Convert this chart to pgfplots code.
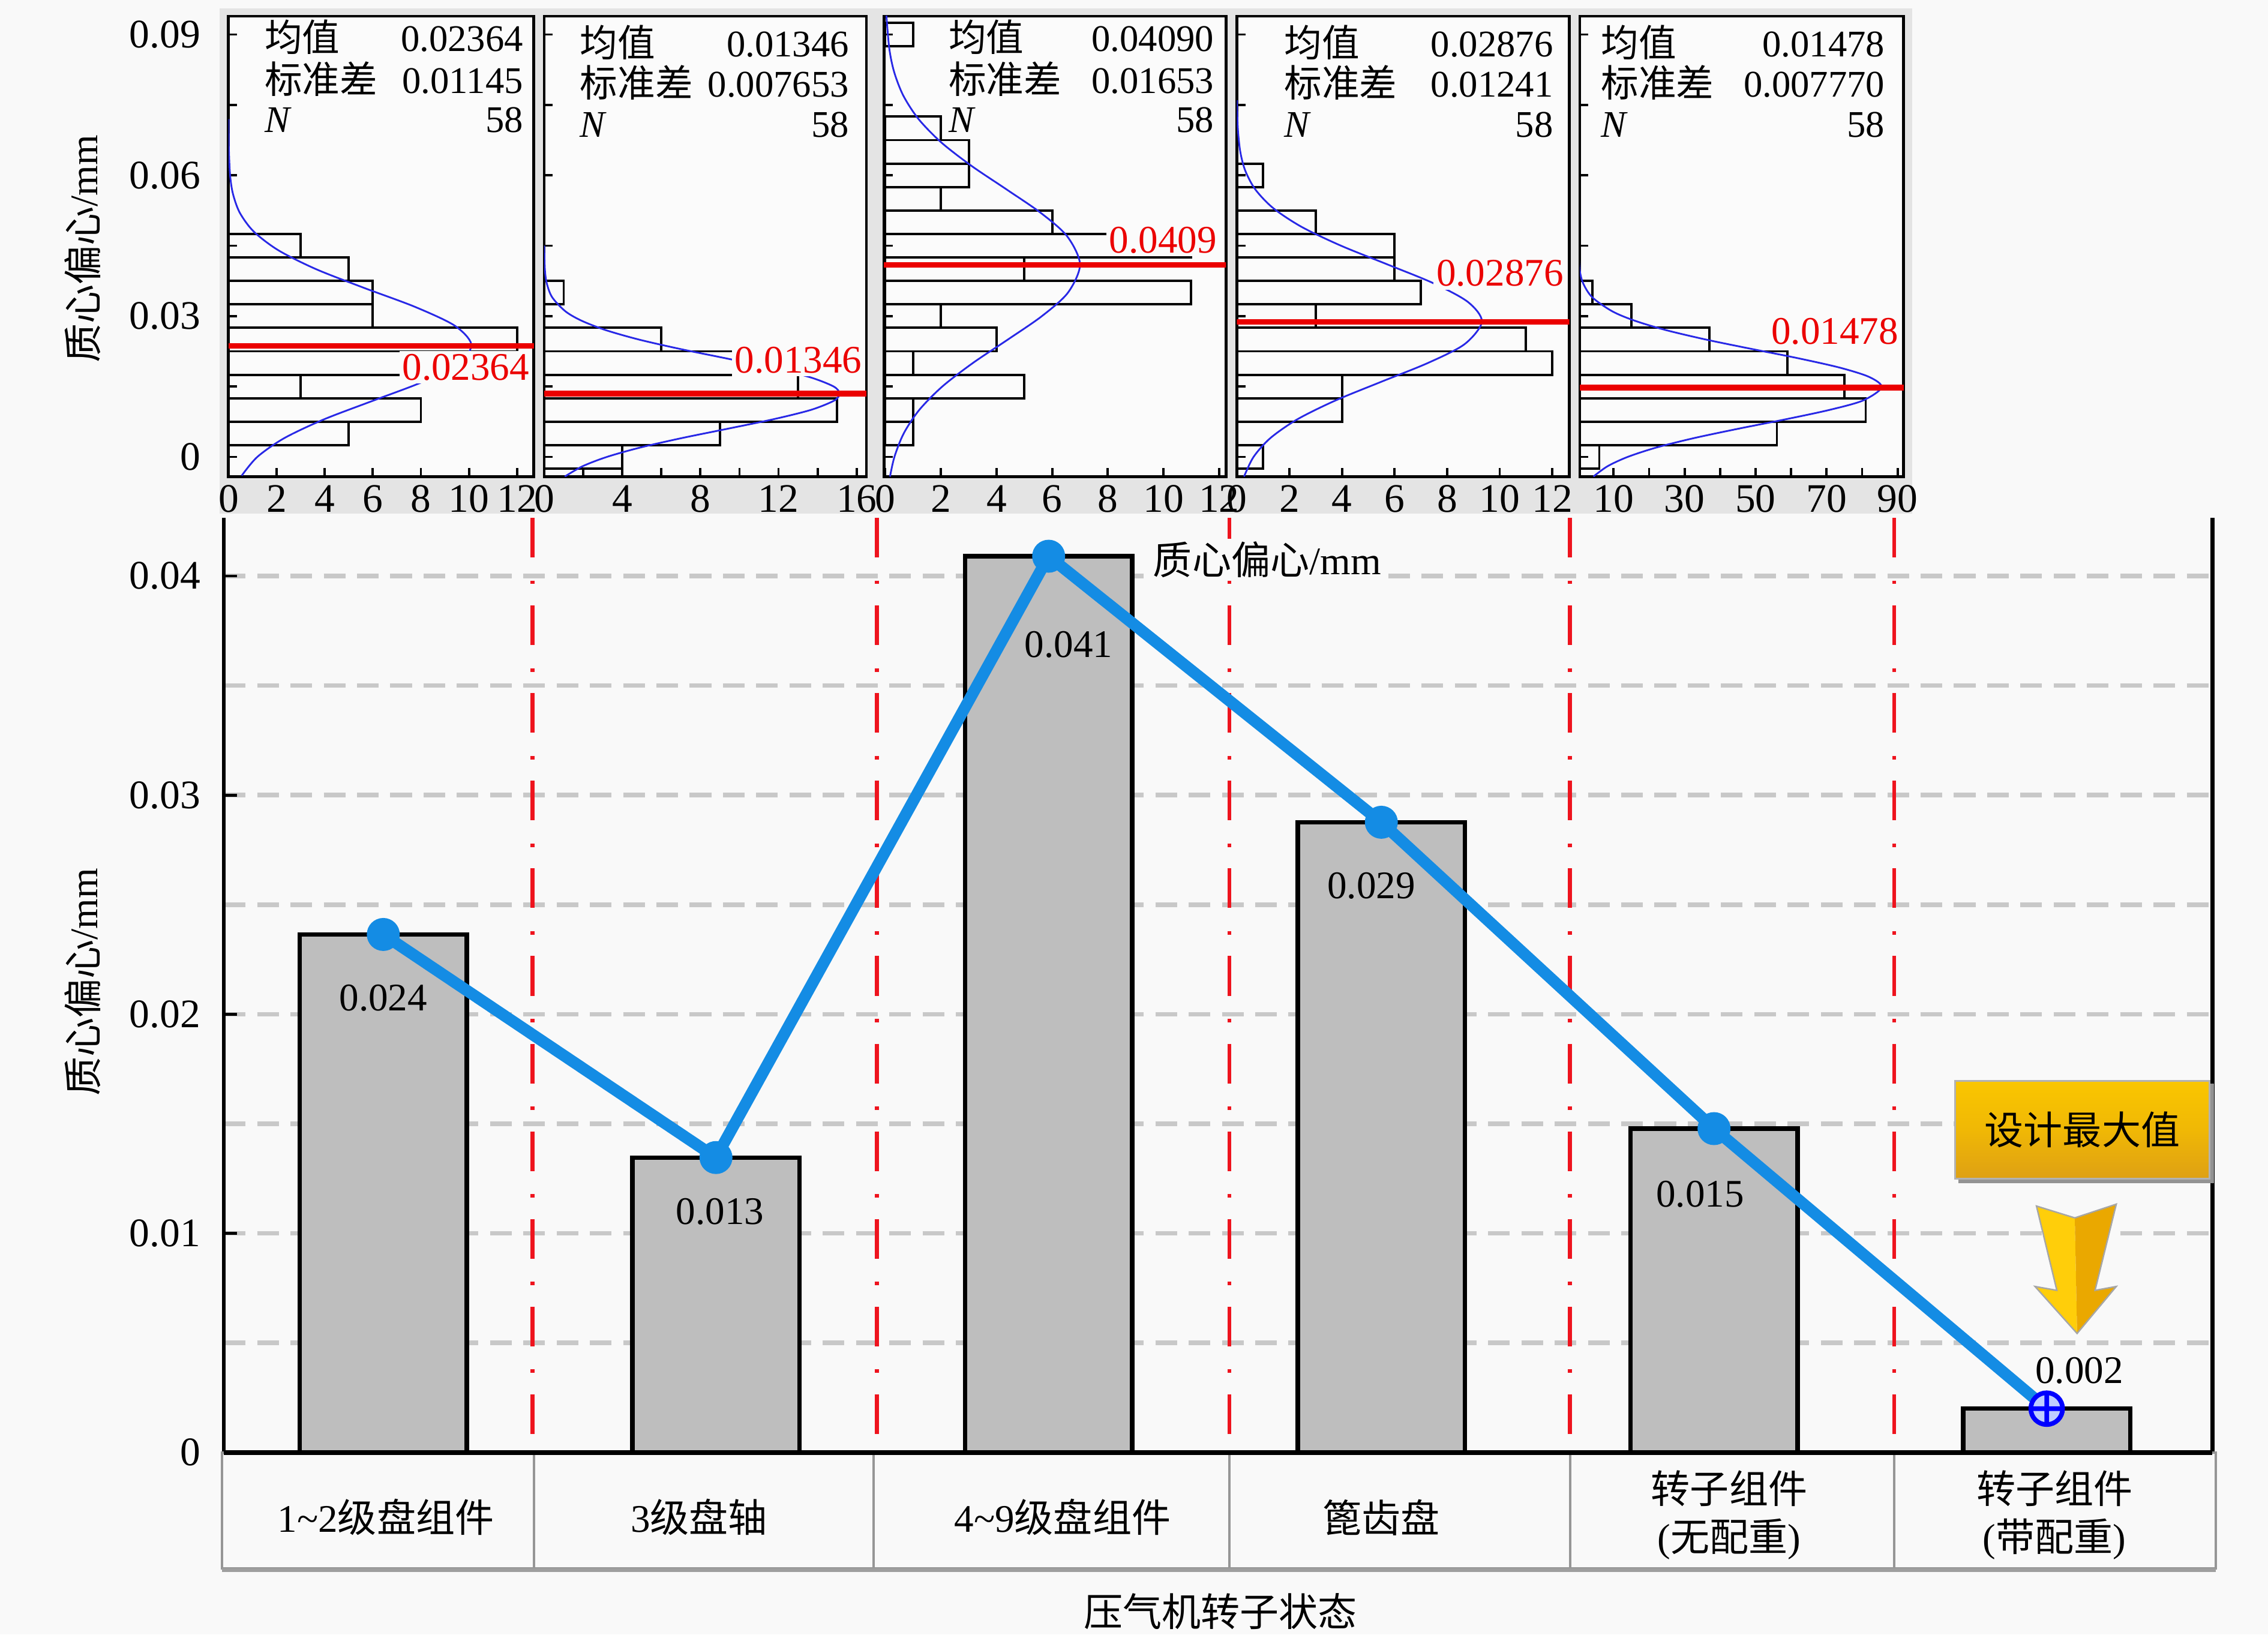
\documentclass[border=0pt]{standalone}
\usepackage{fontspec}
\setmainfont{Liberation Serif}
\newfontfamily\cjk{Noto Sans CJK SC}
\usepackage{pgfplots}
\pgfplotsset{compat=1.18}

\definecolor{bgc}{RGB}{249,249,249}
\definecolor{stripc}{RGB}{228,228,228}
\definecolor{panelbg}{RGB}{251,251,251}
\definecolor{barg}{RGB}{190,190,190}
\definecolor{gridc}{RGB}{200,200,200}
\definecolor{lineb}{RGB}{20,140,228}
\definecolor{curveb}{RGB}{40,40,230}
\definecolor{meanred}{RGB}{235,0,0}
\definecolor{sepred}{RGB}{238,20,30}
\definecolor{tgray}{RGB}{150,150,150}
\definecolor{boxtop}{RGB}{250,198,0}
\definecolor{boxmid}{RGB}{240,184,5}
\definecolor{boxbot}{RGB}{222,160,20}
\definecolor{arrowl}{RGB}{255,206,10}
\definecolor{arrowr}{RGB}{234,168,0}

\newcommand{\fA}{\fontsize{14}{16}\selectfont}
\newcommand{\fB}{\fontsize{13}{15}\selectfont}
\newcommand{\fC}{\fontsize{13.5}{16}\selectfont}

\pgfplotsset{
  panel/.style={
    anchor=south west, scale only axis, height=159.15pt,
    ymin=-0.0042, ymax=0.0939,
    scaled ticks=false,
    axis background/.style={fill=panelbg},
    axis line style={line width=1pt, black},
    tick pos=left, tick align=inside,
    major tick length=3pt, minor tick length=3pt,
    every tick/.style={black, line width=0.8pt},
    ytick={0,0.03,0.06,0.09}, minor ytick={0.015,0.045,0.075},
    yticklabel=\empty,
    /pgf/number format/assume math mode=true,
    xticklabel style={font=\fA, inner sep=0pt, yshift=-2.8pt},
  },
  hbar/.style={xbar, bar width=0.005, bar shift=0pt, draw=black, line width=0.8pt, fill=none},
  ncurve/.style={curveb, line width=0.6pt, smooth, no marks},
  meanl/.style={meanred, line width=2pt, no marks},
  seprl/.style={sepred, line width=1.3pt, dash pattern=on 13.7pt off 8pt on 1.2pt off 7.4pt, no marks, forget plot},
}

\begin{document}
\begin{tikzpicture}
\useasboundingbox (0,0) rectangle (784pt,565pt);
\fill[bgc] (0,0) rectangle (784pt,565pt);
\fill[stripc] (76pt,387.5pt) rectangle (661pt,562pt);

% ---------------- main chart ----------------
\begin{axis}[
  at={(77.4pt,62.9pt)}, anchor=south west,
  scale only axis, width=687.4pt, height=323.1pt,
  xmin=-0.4791, xmax=5.4983, ymin=0, ymax=0.042653,
  scaled ticks=false,
  axis line style={draw=none},
  xtick=\empty,
  ytick={0,0.01,0.02,0.03,0.04}, yticklabels={0,0.01,0.02,0.03,0.04},
  minor ytick={0.005,0.015,0.025,0.035},
  tick pos=left, tick align=inside, major tick length=4.5pt, minor tick length=0pt,
  every tick/.style={black, line width=1pt},
  ymajorgrids, yminorgrids,
  major grid style={gridc, line width=1.6pt, dash pattern=on 7.5pt off 4pt},
  minor grid style={gridc, line width=1.6pt, dash pattern=on 7.5pt off 4pt},
  yticklabel style={font=\fA, inner sep=0pt, anchor=east, xshift=-7.9pt},
  clip=false,
]
\addplot[seprl] coordinates {(0.4483,0.042653) (0.4483,0)};
\addplot[seprl] coordinates {(1.4835,0.042653) (1.4835,0)};
\addplot[seprl] coordinates {(2.5435,0.042653) (2.5435,0)};
\addplot[seprl] coordinates {(3.5670,0.042653) (3.5670,0)};
\addplot[seprl] coordinates {(4.5420,0.042653) (4.5420,0)};
\addplot[ybar, bar width=57.75pt, bar shift=0pt, fill=barg, draw=black, line width=1.5pt]
  coordinates {(0,0.02364) (1,0.01346) (2,0.0409) (3,0.02876) (4,0.01478) (5,0.002)};
\addplot[lineb, line width=4pt, line join=round, no marks]
  coordinates {(0,0.02364) (1,0.01346) (2,0.0409) (3,0.02876) (4,0.01478) (5,0.002)};
\addplot[only marks, mark=*, mark size=5.5pt, lineb]
  coordinates {(0,0.02364) (1,0.01346) (2,0.0409) (3,0.02876) (4,0.01478)};
\addplot[only marks, mark=oplus*, mark size=5.5pt, draw=blue, mark options={fill={rgb,255:red,190;green,205;blue,255}, line width=1.6pt, draw=blue}]
  coordinates {(5,0.002)};
\node[font=\fC] at (axis cs:0,0.02074) {0.024};
\node[font=\fC] at (axis cs:1.012,0.01099) {0.013};
\node[font=\fC] at (axis cs:2.06,0.03687) {0.041};
\node[font=\fC] at (axis cs:2.970,0.02585) {0.029};
\node[font=\fC] at (axis cs:3.958,0.01178) {0.015};
\node[font=\fC] at (axis cs:5.098,0.003736) {0.002};
\draw[black, line width=1.3pt] (rel axis cs:0,0) -- (rel axis cs:0,1);
\draw[black, line width=1.6pt] (rel axis cs:0,0) -- (rel axis cs:1,0);
\draw[black, line width=1.6pt] (rel axis cs:1,0) -- (rel axis cs:1,1);
\end{axis}

% ---------------- histogram panels ----------------
\begin{axis}[panel, at={(79pt,400.25pt)}, width=105.55pt,
  xmin=0, xmax=12.7, xtick={0,2,4,6,8,10,12},
  yticklabels={0,0.03,0.06,0.09},
  yticklabel style={font=\fA, inner sep=0pt, anchor=east, xshift=-9.5pt}]
\addplot[hbar] coordinates {(5,0.005) (8,0.010) (3,0.015) (10,0.020) (12,0.025) (6,0.030) (6,0.035) (5,0.040) (3,0.045)};
\addplot[ncurve] coordinates {(0.548,-0.004) (1.199,0) (2.320,0.004) (3.973,0.008) (6.025,0.012) (8.084,0.016) (9.602,0.020) (10.095,0.024) (9.394,0.028) (7.738,0.032) (5.640,0.036) (3.639,0.040) (2.079,0.044) (1.050,0.048) (0.470,0.052) (0.186,0.056) (0.065,0.060) (0.011,0.066) (0.002,0.072)};
\addplot[meanl] coordinates {(0,0.02364) (13,0.02364)};
\end{axis}

\begin{axis}[panel, at={(188.1pt,400.25pt)}, width=111.4pt,
  xmin=0, xmax=16.5, xtick={0,4,8,12,16}, minor xtick={2,6,10,14}]
\addplot[hbar] coordinates {(4,0) (9,0.005) (15,0.010) (13,0.015) (10,0.020) (6,0.025) (1,0.035)};
\addplot[ncurve] coordinates {(1.055,-0.0042) (1.966,-0.002) (3.219,0) (4.928,0.002) (7.043,0.004) (9.402,0.006) (11.72,0.008) (13.65,0.010) (14.85,0.012) (15.12,0.0135) (14.82,0.015) (13.59,0.017) (11.63,0.019) (9.307,0.021) (6.952,0.023) (4.851,0.025) (3.160,0.027) (1.923,0.029) (1.093,0.031) (0.412,0.034) (0.133,0.037) (0.037,0.040) (0.005,0.045)};
\addplot[meanl] coordinates {(0,0.01346) (17,0.01346)};
\end{axis}

\begin{axis}[panel, at={(305.55pt,400.25pt)}, width=118.25pt,
  xmin=-0.05, xmax=12.25, xtick={0,2,4,6,8,10,12}]
\addplot[hbar] coordinates {(1,0.005) (1,0.010) (5,0.015) (1,0.020) (4,0.025) (2,0.030) (11,0.035) (5,0.040) (11,0.045) (6,0.050) (2,0.055) (3,0.060) (3,0.065) (2,0.070) (1,0.090)};
\addplot[ncurve] coordinates {(0.169,-0.0042) (0.328,0) (0.662,0.005) (1.220,0.010) (2.051,0.015) (3.148,0.020) (4.407,0.025) (5.632,0.030) (6.568,0.035) (7.0,0.041) (6.539,0.047) (5.587,0.052) (4.356,0.057) (3.100,0.062) (2.012,0.067) (1.192,0.072) (0.645,0.077) (0.318,0.082) (0.143,0.087) (0.040,0.094)};
\addplot[meanl] coordinates {(-1,0.0409) (13,0.0409)};
\end{axis}

\begin{axis}[panel, at={(427.55pt,400.25pt)}, width=114.95pt,
  xmin=0, xmax=12.65, xtick={0,2,4,6,8,10,12}]
\addplot[hbar] coordinates {(1,0) (4,0.010) (4,0.015) (12,0.020) (11,0.025) (3,0.030) (7,0.035) (6,0.040) (6,0.045) (3,0.050) (1,0.060)};
\addplot[ncurve] coordinates {(0.274,-0.0042) (0.636,0) (1.274,0.004) (2.300,0.008) (3.744,0.012) (5.493,0.016) (7.265,0.020) (8.659,0.024) (9.32,0.0288) (8.792,0.033) (7.477,0.037) (5.730,0.041) (3.959,0.045) (2.465,0.049) (1.383,0.053) (0.700,0.057) (0.319,0.061) (0.131,0.065) (0.037,0.070) (0.005,0.076)};
\addplot[meanl] coordinates {(0,0.02876) (13,0.02876)};
\end{axis}

\begin{axis}[panel, at={(546.1pt,400.25pt)}, width=111.95pt,
  xmin=0.5, xmax=91.7, xtick={10,30,50,70,90}, minor xtick={20,40,60,80}]
\addplot[hbar] coordinates {(6,0) (56,0.005) (81,0.010) (75,0.015) (59,0.020) (37,0.025) (15,0.030) (4,0.035)};
\addplot[ncurve] coordinates {(4.33,-0.0042) (8.30,-0.002) (14.01,0) (22.10,0.002) (32.66,0.004) (45.15,0.006) (58.43,0.008) (70.76,0.010) (80.20,0.012) (85.5,0.0148) (82.08,0.017) (73.78,0.019) (62.07,0.021) (48.85,0.023) (36.00,0.025) (24.82,0.027) (16.02,0.029) (9.68,0.031) (4.01,0.034) (1.43,0.037) (0.44,0.040) (0.03,0.045)};
\addplot[meanl] coordinates {(0,0.01478) (95,0.01478)};
\end{axis}

% ---------------- panel texts ----------------
\begin{scope}[every node/.style={font=\fB, inner sep=0pt}]
% panel 1
\node[anchor=base west] at (91.3pt,547.2pt) {\cjk 均值};
\node[anchor=base east] at (181pt,547.2pt) {0.02364};
\node[anchor=base west] at (91.3pt,532.65pt) {\cjk 标准差};
\node[anchor=base east] at (181pt,532.65pt) {0.01145};
\node[anchor=base west] at (91.3pt,519.3pt) {\textit{N}};
\node[anchor=base east] at (181pt,519.3pt) {58};
% panel 2
\node[anchor=base west] at (200.3pt,545.45pt) {\cjk 均值};
\node[anchor=base east] at (293.65pt,545.45pt) {0.01346};
\node[anchor=base west] at (200.3pt,531.5pt) {\cjk 标准差};
\node[anchor=base east] at (293.65pt,531.5pt) {0.007653};
\node[anchor=base west] at (200.3pt,517.55pt) {\textit{N}};
\node[anchor=base east] at (293.65pt,517.55pt) {58};
% panel 3
\node[anchor=base west] at (327.75pt,547.2pt) {\cjk 均值};
\node[anchor=base east] at (419.8pt,547.2pt) {0.04090};
\node[anchor=base west] at (327.75pt,532.65pt) {\cjk 标准差};
\node[anchor=base east] at (419.8pt,532.65pt) {0.01653};
\node[anchor=base west] at (327.75pt,519.3pt) {\textit{N}};
\node[anchor=base east] at (419.8pt,519.3pt) {58};
% panel 4
\node[anchor=base west] at (443.75pt,545.45pt) {\cjk 均值};
\node[anchor=base east] at (537.1pt,545.45pt) {0.02876};
\node[anchor=base west] at (443.75pt,531.5pt) {\cjk 标准差};
\node[anchor=base east] at (537.1pt,531.5pt) {0.01241};
\node[anchor=base west] at (443.75pt,517.55pt) {\textit{N}};
\node[anchor=base east] at (537.1pt,517.55pt) {58};
% panel 5
\node[anchor=base west] at (553.25pt,545.45pt) {\cjk 均值};
\node[anchor=base east] at (651.7pt,545.45pt) {0.01478};
\node[anchor=base west] at (553.25pt,531.5pt) {\cjk 标准差};
\node[anchor=base east] at (651.7pt,531.5pt) {0.007770};
\node[anchor=base west] at (553.25pt,517.55pt) {\textit{N}};
\node[anchor=base east] at (651.7pt,517.55pt) {58};
\end{scope}

\begin{scope}[every node/.style={font=\fC, text=meanred, fill=panelbg, inner sep=1pt}]
\node at (161pt,438pt) {0.02364};
\node at (276pt,440.5pt) {0.01346};
\node at (402pt,482pt) {0.0409};
\node at (518.5pt,470.5pt) {0.02876};
\node at (634.25pt,450.5pt) {0.01478};
\end{scope}

% ---------------- labels ----------------
\node[fill=bgc, inner sep=1pt, font=\fC] at (438pt,371.5pt) {{\cjk 质心偏心}/mm};
\node[rotate=90, font=\fC] at (28.5pt,479pt) {{\cjk 质心偏心}/mm};
\node[rotate=90, font=\fC] at (28.5pt,225.5pt) {{\cjk 质心偏心}/mm};
\node[font=\fC] at (421.9pt,8pt) {\cjk 压气机转子状态};

% ---------------- category table ----------------
\draw[tgray, line width=0.8pt] (76.7pt,22.8pt) rectangle (765.9pt,62.9pt);
\draw[gray!75, line width=1.2pt] (76.7pt,22.2pt) -- (765.9pt,22.2pt);
\foreach \xx in {184.55,301.95,424.9,542.7,654.8}
  \draw[tgray, line width=0.8pt] (\xx pt,22.8pt) -- (\xx pt,62.9pt);
\draw[black, line width=1.6pt] (77.4pt,62.9pt) -- (764.8pt,62.9pt);
\begin{scope}[every node/.style={font=\fC}]
\node at (133.35pt,40.5pt) {1\textasciitilde 2{\cjk 级盘组件}};
\node at (241.65pt,40.5pt) {3{\cjk 级盘轴}};
\node at (367.3pt,40.5pt) {4\textasciitilde 9{\cjk 级盘组件}};
\node at (477.5pt,40.5pt) {\cjk 篦齿盘};
\node at (597.75pt,50.55pt) {\cjk 转子组件};
\node at (597.75pt,32.95pt) {({\cjk 无配重})};
\node at (710.2pt,50.55pt) {\cjk 转子组件};
\node at (710.2pt,32.95pt) {({\cjk 带配重})};
\end{scope}

% ---------------- design max box and arrow ----------------
\draw[gray!85, line width=1.6pt] (677pt,156.8pt) -- (764.5pt,156.8pt) -- (764.5pt,190.5pt);
\shade[top color=boxtop, bottom color=boxbot, middle color=boxmid, draw=gray!60, line width=0.6pt]
  (675.85pt,157.55pt) rectangle (763.75pt,191.4pt);
\node[font=\fC] at (719.8pt,174.5pt) {\cjk 设计最大值};
\fill[arrowl] (703.95pt,148.1pt) -- (717.2pt,144pt) -- (718pt,104.05pt) -- (703.45pt,120.3pt) -- (711pt,118.95pt) -- cycle;
\fill[arrowr] (717.2pt,144pt) -- (731.55pt,148.75pt) -- (724.2pt,118.95pt) -- (731.55pt,120.3pt) -- (718pt,104.05pt) -- cycle;
\draw[gray!70, line width=0.5pt] (703.95pt,148.1pt) -- (717.2pt,144pt) -- (731.55pt,148.75pt) -- (724.2pt,118.95pt) -- (731.55pt,120.3pt) -- (718pt,104.05pt) -- (703.45pt,120.3pt) -- (711pt,118.95pt) -- cycle;
\end{tikzpicture}
\end{document}
